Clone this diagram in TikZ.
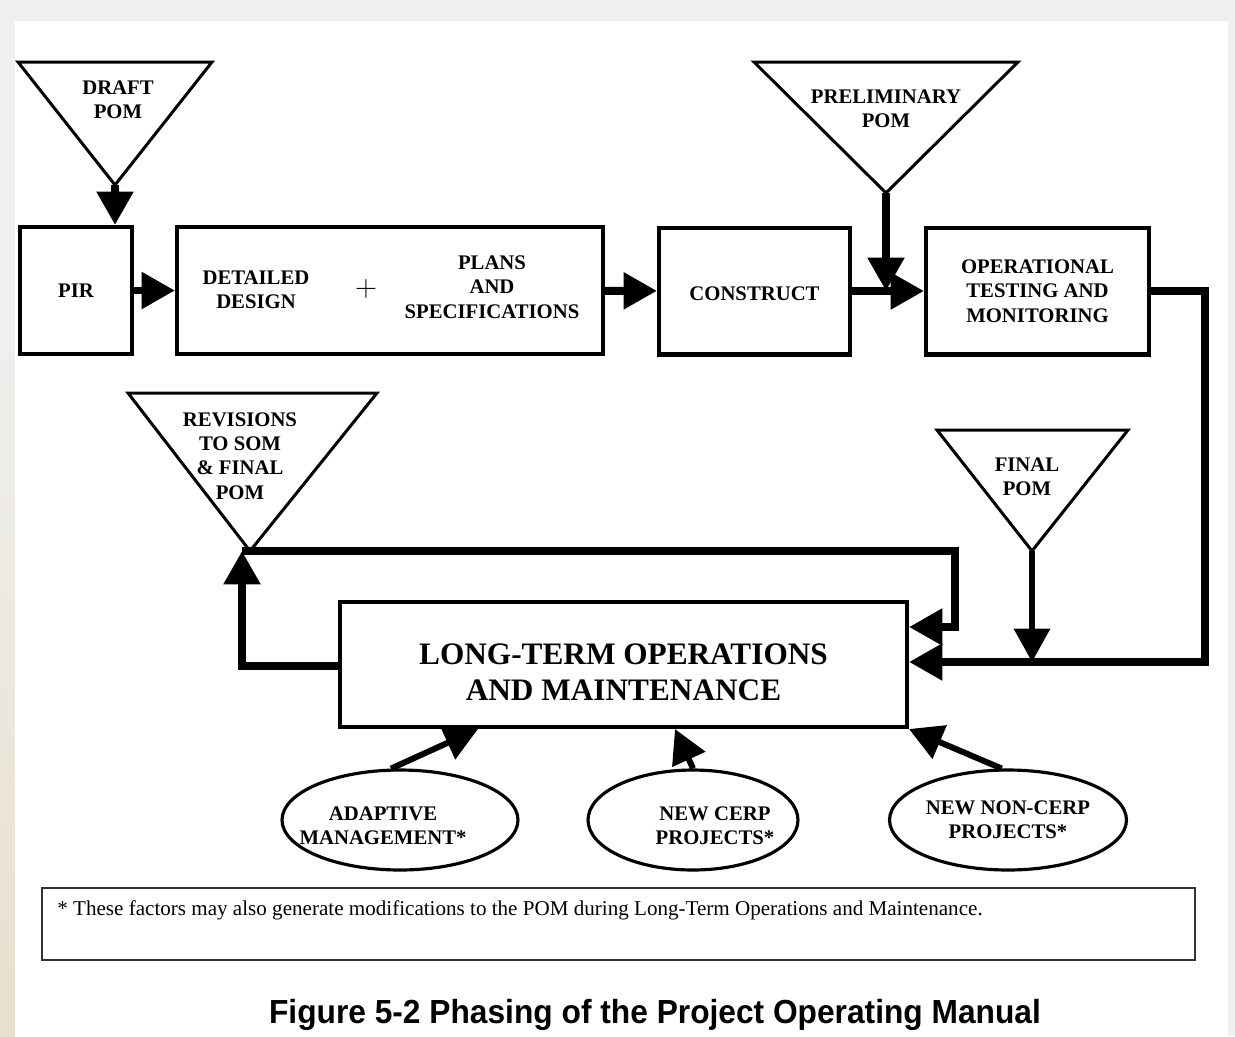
\documentclass[tikz,border=0pt]{standalone}
\usepackage{fontspec}
\setmainfont{Liberation Serif}
\newfontfamily\capfont{Liberation Sans}
\usetikzlibrary{arrows.meta, shapes.geometric, positioning}
\newcommand{\lblfont}{\fontsize{11.8}{13.9}\selectfont\bfseries}
\newcommand{\bigfont}{\fontsize{17.8}{20.4}\selectfont\bfseries}
\tikzset{
  box/.style={draw, line width=2.3pt, minimum height=2.54cm, align=center, font=\lblfont},
  oval/.style={draw, ellipse, line width=1.8pt, minimum height=2cm, align=center, font=\lblfont, inner sep=0pt},
  tri/.style={draw, line width=1.7pt, line join=miter},
  lbl/.style={align=center, font=\lblfont, inner sep=0pt},
  conn/.style={line width=4.5pt, line join=miter, -{Triangle[length=19pt,width=20pt]}},
  feed/.style={line width=3.4pt, -{Triangle[length=19pt,width=20pt]}}
}
\begin{document}
\begin{tikzpicture}[x=0.02cm, y=-0.02cm]
  \useasboundingbox (0,0) rectangle (1235,1036);
  \fill[gray!12] (0,0) rectangle (1235,1036);
  \shade[top color=gray!12, bottom color={rgb,255:red,232;green,224;blue,205}] (0,300) rectangle (15,1036);
  \fill[white] (15,21) rectangle (1228,1036);

  % inputs
  \draw[tri] (18,62) -- (212,62) -- (115,185) -- cycle;
  \coordinate (draftTip) at (115,185);
  \node[lbl] (draft) at (118,100) {DRAFT\\POM};

  \draw[tri] (754,62) -- (1018,62) -- (886,193) -- cycle;
  \coordinate (prelimTip) at (886,193);
  \node[lbl] (prelim) at (886,109) {PRELIMINARY\\POM};

  \draw[tri] (128,393) -- (377,393) -- (250,551) -- cycle;
  \node[lbl] (rev) at (240,456) {REVISIONS\\TO SOM\\\& FINAL\\POM};

  \draw[tri] (937,430) -- (1128,430) -- (1032,551) -- cycle;
  \coordinate (finalTip) at (1032,551);
  \node[lbl] (final) at (1027,477) {FINAL\\POM};

  % phases
  \node[box, minimum width=2.24cm] (PIR) at (76,290.5) {PIR};
  \node[box, minimum width=8.52cm] (DD) at (390,290.5) {};
  \node[lbl] (DDa) at (256,290) {DETAILED\\DESIGN};
  \node[font=\fontsize{18}{20}\selectfont] (plus) at (366,289) {$+$};
  \node[lbl] (DDb) at (492,287) {PLANS\\AND\\SPECIFICATIONS};
  \node[box, minimum width=3.82cm] (CON) at (754.5,291) {};
  \node[lbl] (CONt) at (754.5,294) {CONSTRUCT};
  \node[box, minimum width=4.46cm] (OTM) at (1037.5,291) {OPERATIONAL\\TESTING AND\\MONITORING};
  \node[box, minimum width=11.34cm, minimum height=2.5cm] (LTOM) at (623.5,664.5) {};
  \node[align=center, inner sep=0pt, font=\bigfont] (LTOMt) at (623.5,672) {LONG-TERM OPERATIONS\\AND MAINTENANCE};

  \node[oval, minimum width=4.72cm] (AM) at (400,820) {};
  \node[lbl] (AMt) at (383,826) {ADAPTIVE\\MANAGEMENT*};
  \node[oval, minimum width=4.2cm] (NC) at (693,820) {};
  \node[lbl] (NCt) at (715,826) {NEW CERP\\PROJECTS*};
  \node[oval, minimum width=4.74cm] (NN) at (1008,820) {NEW NON-CERP\\PROJECTS*};

  \coordinate (R) at (1205,662);
  \coordinate (L) at (242,551);
  \coordinate (M) at (955,627);

  \draw[conn] (draftTip) -- (draftTip |- PIR.north);
  \draw[conn] (PIR) -- (DD);
  \draw[conn] (DD) -- (CON);
  \draw[conn] (CON) -- (OTM);
  \draw[conn] (prelimTip) -- (prelimTip |- OTM.west);
  \draw[conn] (OTM.east) -| (R) -- (R -| LTOM.east);
  \draw[feed] (finalTip) -- (finalTip |- R);
  \draw[conn] (LTOM.west |- 0,666) -| (L);
  \draw[conn] (L) -| (M) -- (M -| LTOM.east);

  \draw[feed] (AM.100) -- ([xshift=2.8cm]LTOM.south west);
  \draw[feed] (NC.north) -- ([xshift=1.03cm]LTOM.south);
  \draw[feed] (NN.97) -- (LTOM.south east);

  % note and caption
  \draw[line width=0.9pt, gray!40!black] (42,888) rectangle (1195,960);
  \node[anchor=west, inner sep=0pt, font=\fontsize{12}{14}\selectfont] (note) at (57,910) {* These factors may also generate modifications to the POM during Long-Term Operations and Maintenance.};
  \node[font=\capfont\fontsize{19}{22}\selectfont\bfseries] (cap) at (655,1015) {\scalebox{0.95}[1]{Figure 5-2 Phasing of the Project Operating Manual}};
\end{tikzpicture}
\end{document}
